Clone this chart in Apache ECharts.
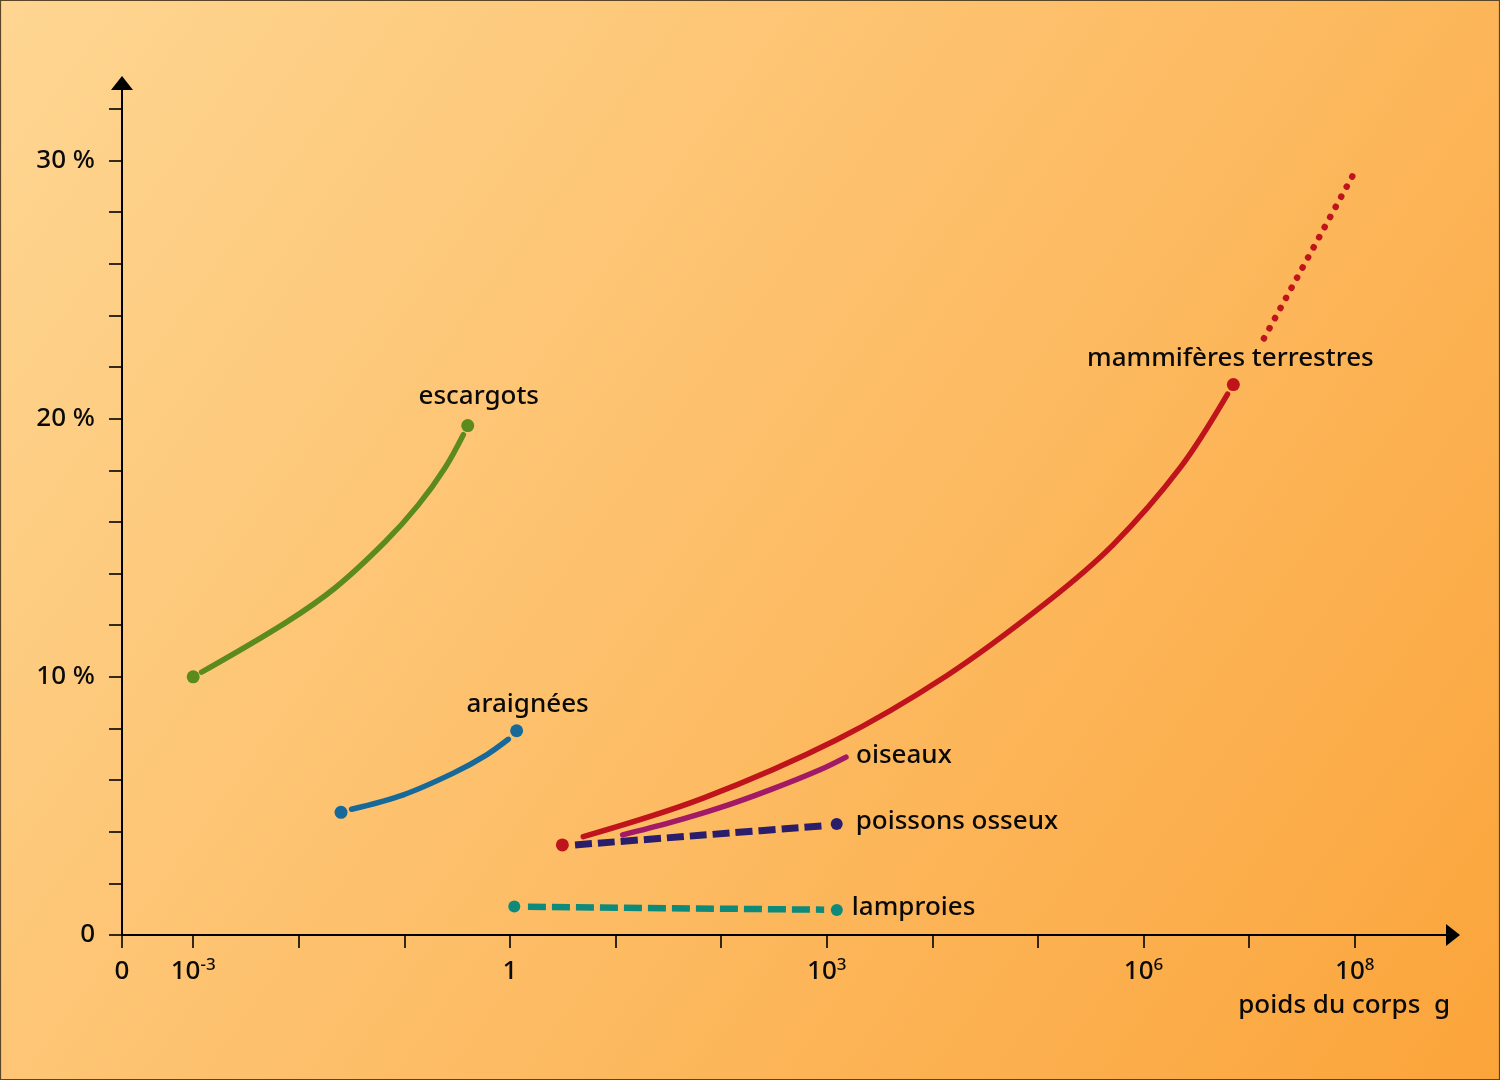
<!DOCTYPE html>
<html><head><meta charset="utf-8">
<script src="https://cdn.jsdelivr.net/npm/echarts@6/dist/echarts.min.js"></script>
<style>html,body{margin:0;padding:0;background:#fff}#c{width:1500px;height:1080px}</style>
</head><body><div id="c"></div>
<script>
// ---- axis definition (x = log10 of body weight in g; "0" is a conventional break) ----
const ZERO_POS = -3.674;
const X_MAX = 8.93;
const Y_MAX = 33;
const xTickValues = [ZERO_POS, -3, -2, -1, 0, 1, 2, 3, 4, 5, 6, 7, 8];
const xLabelValues = [ZERO_POS, -3, 0, 3, 6, 8];
const xLabelTexts = ['{b|0}', '{b|10}{s|-3}', '{b|1}', '{b|10}{s|3}', '{b|10}{s|6}', '{b|10}{s|8}'];
const yTickValues = [0, 2, 4, 6, 8, 10, 12, 14, 16, 18, 20, 22, 24, 26, 28, 30, 32];
const yLabelValues = [0, 10, 20, 30];
const yLabelTexts = ['0', '10 %', '20 %', '30 %'];
const xAxisTitle = 'poids du corps  g';

// ---- series data: [log10(weight g), percent] ----
const escargotsCurve = [[-2.92, 10.18], [-2.131, 12.08], [-1.657, 13.44], [-1.184, 15.22], [-0.868, 16.66], [-0.616, 18.09], [-0.442, 19.38]];
const escargotsDots = [[-3.0, 10.0], [-0.40, 19.73]];

const araigneesCurve = [[-1.50, 4.87], [-1.01, 5.43], [-0.537, 6.27], [-0.221, 6.98], [-0.016, 7.58]];
const araigneesDots = [[-1.60, 4.75], [0.063, 7.91]];

const mammiferesCurve = [[0.694, 3.81], [1.83, 5.30], [3.094, 7.56], [4.135, 10.04], [5.082, 12.88], [5.713, 15.12], [6.345, 18.09], [6.795, 20.95]];
const mammiferesDots = [[0.496, 3.49], [6.85, 21.32]];
const mammiferesExtrapolated = [[7.14, 23.11], [7.976, 29.38]];

const oiseauxCurve = [[1.067, 3.88], [1.515, 4.35], [1.989, 4.93], [2.462, 5.62], [2.936, 6.40], [3.182, 6.89]];

const poissonsLine = [[0.616, 3.49], [1.80, 3.86], [2.999, 4.24]];
const poissonsDots = [[3.094, 4.30]];

const lamproiesLine = [[0.17, 1.09], [2.975, 0.98]];
const lamproiesDots = [[0.041, 1.10], [3.095, 0.97]];

const FONT = 'Noto Sans';
const TXT = '#0a0a0a';

function curve(name, data, color, width, extra) {
  return Object.assign({
    type: 'line', name: name, data: data, smooth: 0.35, showSymbol: false, symbol: 'none',
    silent: true, z: 2,
    lineStyle: { color: color, width: width, cap: 'round' }
  }, extra || {});
}
function dots(name, data, color, size, labelIdx, text, offset, align) {
  return {
    type: 'scatter', name: name, symbolSize: size, silent: true, z: 3,
    itemStyle: { color: color, opacity: 1 },
    data: data.map(function (d, i) {
      if (i !== labelIdx) return d;
      return { value: d, label: { show: true, formatter: text, position: 'inside', align: align || 'center',
        verticalAlign: 'middle', offset: offset, color: TXT, opacity: 1, fontSize: 26, fontWeight: 500, fontFamily: FONT } };
    })
  };
}

const chart = echarts.init(document.getElementById('c'), null, { renderer: 'canvas' });
chart.setOption({
  animation: false,
  backgroundColor: { type: 'linear', x: 0, y: 0, x2: 1, y2: 1,
    colorStops: [{ offset: 0, color: '#FED692' }, { offset: 0.5, color: '#FDBE68' }, { offset: 1, color: '#FBA43A' }] },
  grid: { left: 122, right: 47, top: 83, bottom: 145, containLabel: false, outerBoundsMode: 'none' },
  graphic: [
    { type: 'rect', silent: true, z: 100, shape: { x: 0.5, y: 0.5, width: 1499, height: 1079 },
      style: { fill: 'none', stroke: '#5a4626', lineWidth: 1.2 } },
    { type: 'text', silent: true, z: 100, right: 50, top: 993,
      style: { text: xAxisTitle, fill: TXT, fontSize: 26, fontWeight: 500, fontFamily: FONT } }
  ],
  xAxis: {
    type: 'value', min: ZERO_POS, max: X_MAX,
    axisLine: { show: true, onZero: false, symbol: ['none', 'triangle'], symbolSize: [22, 14],
      lineStyle: { color: '#000', width: 2 } },
    axisTick: { show: true, length: 13, customValues: xTickValues, lineStyle: { color: '#000', width: 1.6 } },
    axisLabel: {
      show: true, customValues: xLabelValues, margin: 22, color: TXT, fontFamily: FONT, fontSize: 26,
      formatter: function (v) {
        for (let i = 0; i < xLabelValues.length; i++) if (Math.abs(v - xLabelValues[i]) < 1e-6) return xLabelTexts[i];
        return '';
      },
      rich: {
        b: { fontSize: 26, fontWeight: 500, fontFamily: FONT, color: TXT, lineHeight: 30 },
        s: { fontSize: 17, fontWeight: 500, fontFamily: FONT, color: TXT, lineHeight: 16, verticalAlign: 'top' }
      }
    },
    splitLine: { show: false }
  },
  yAxis: {
    type: 'value', min: 0, max: Y_MAX,
    axisLine: { show: true, onZero: false, symbol: ['none', 'triangle'], symbolSize: [22, 14],
      lineStyle: { color: '#000', width: 2 } },
    axisTick: { show: true, length: 13, customValues: yTickValues, lineStyle: { color: '#000', width: 1.6 } },
    axisLabel: {
      show: true, customValues: yLabelValues, margin: 27, color: TXT, fontFamily: FONT, fontSize: 26, fontWeight: 500,
      formatter: function (v) {
        const i = yLabelValues.indexOf(v);
        return i >= 0 ? yLabelTexts[i] : '';
      }
    },
    splitLine: { show: false }
  },
  series: [
    curve('escargots', escargotsCurve, '#5B8A1E', 5.5),
    dots('escargots-pts', escargotsDots, '#5B8A1E', 13, 1, 'escargots', [11, -29]),
    curve('araignées', araigneesCurve, '#17699A', 5.5),
    dots('araignées-pts', araigneesDots, '#17699A', 13, 1, 'araignées', [11, -26]),
    curve('oiseaux', oiseauxCurve, '#A21A66', 5.5, {
      endLabel: { show: true, formatter: 'oiseaux', distance: 10, offset: [0, -2], color: TXT, fontSize: 26, fontWeight: 500, fontFamily: FONT }
    }),
    curve('poissons osseux', poissonsLine, '#2A1D6B', 7, { smooth: 0.2, lineStyle: { color: '#2A1D6B', width: 7, cap: 'butt', type: [17, 6] } }),
    dots('poissons-pts', poissonsDots, '#2A1D6B', 12, 0, 'poissons osseux', [19, -2], 'left'),
    curve('lamproies', lamproiesLine, '#0E8A7B', 6.5, { smooth: false, lineStyle: { color: '#0E8A7B', width: 6.5, cap: 'butt', type: [18, 6] } }),
    dots('lamproies-pts', lamproiesDots, '#0E8A7B', 12, 1, 'lamproies', [15, -2], 'left'),
    curve('mammifères terrestres', mammiferesCurve, '#BF141C', 5.5),
    curve('mammifères extrapolé', mammiferesExtrapolated, '#BF141C', 6.5, { smooth: false, lineStyle: { color: '#BF141C', width: 6.5, cap: 'round', type: [0.1, 11.42] } }),
    dots('mammifères-pts', mammiferesDots, '#BF141C', 13, 1, 'mammifères terrestres', [-3, -26])
  ]
});
</script></body></html>
